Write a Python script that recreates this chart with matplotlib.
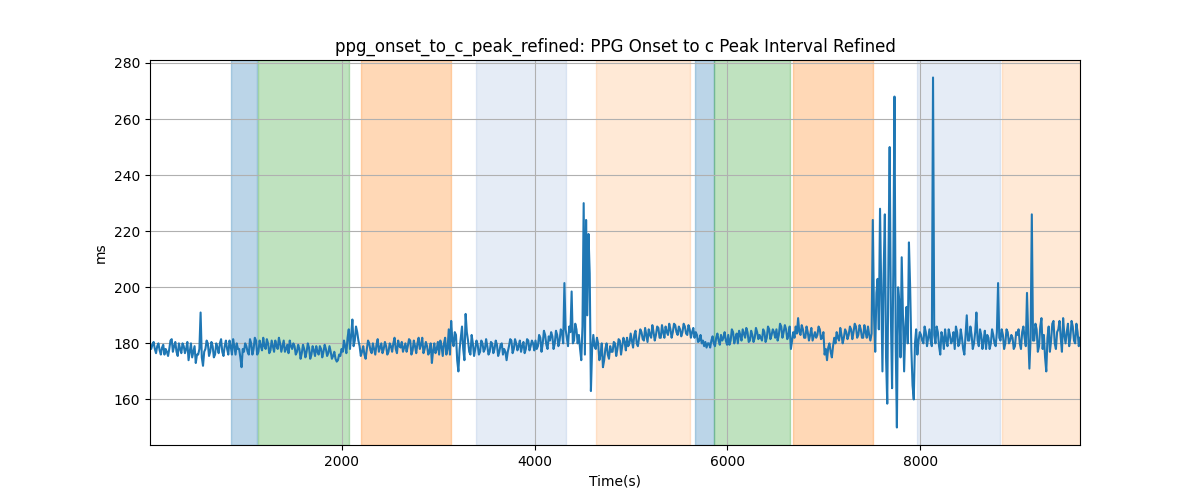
import numpy as np
import matplotlib
matplotlib.use("Agg")
import matplotlib.pyplot as plt

# interval values (ms) at every 25 s
values = [
    180, 179.5, 178, 179, 177.5, 178.5, 176, 177, 178, 181.5, 179, 177, 180, 176.5, 179, 178, 174, 180, 177, 173,
    176, 191, 172, 178, 180, 177, 179, 176, 178.5, 180, 177, 179, 178, 181, 176, 179, 180, 178, 171.5, 177,
    179, 176, 180, 178, 181, 177, 179, 182, 178, 180, 177.5, 179, 181, 178, 180, 179, 177, 179.5, 181, 178,
    179, 177, 178, 176.5, 178, 177, 178.5, 176, 177.5, 179, 176, 178, 177, 178, 176.5, 177, 175.5, 174.5, 174, 175.5,
    177, 179, 182, 178, 188.5, 181, 184, 179, 177, 176, 178, 180, 176.5, 178, 179.5, 177, 180, 178, 179, 177,
    179, 180, 178, 181, 178.5, 177, 180, 179, 181, 177.5, 179, 180, 178, 182, 178, 179, 177, 173, 180, 178,
    176, 179, 180, 176, 185, 188, 179, 183, 170, 182, 178, 190.5, 181, 176, 180, 178, 179.5, 177, 180, 178,
    179, 177, 180, 178, 179.5, 177, 180, 178, 174, 179, 181, 178, 180, 179, 177, 180.5, 178, 181, 179, 180,
    181, 179, 182, 180, 183, 178, 181, 182.5, 180, 183, 181, 184, 201.5, 182, 186, 198.5, 181, 185, 183, 174,
    230, 224, 219, 163, 183, 178, 180, 176, 171.5, 178, 176, 179, 177, 180, 178, 181, 179, 180.5, 182, 180,
    181, 183, 180, 182, 184, 181, 183, 185, 182, 184, 183, 185.5, 182, 184, 186, 183, 185, 184, 186.5, 183,
    185, 184, 186, 183, 185, 184, 182, 183, 181, 180, 179, 178.5, 180, 181, 180, 182, 181, 183, 182, 181,
    183, 181, 184, 182, 180, 183, 185, 182, 184, 181, 183, 182, 184, 183, 181, 184, 182, 185, 183, 184,
    185, 183, 186, 184, 185, 183, 178, 184, 186, 189, 183, 185, 182, 184, 183, 181, 184, 183, 185, 182,
    176, 174, 180, 175, 182, 184, 181, 183, 182, 184, 183, 185, 184, 186, 183, 185, 182, 184, 186, 181,
    224, 177, 203, 228, 170, 226, 158.5, 250, 164, 268, 150, 195, 210.7, 170, 193, 216, 178, 160, 185, 181,
    183, 180, 184, 182, 181, 274.8, 180, 184, 176, 182, 185, 179, 183, 181, 178, 184, 180, 182, 176, 190,
    181, 183, 180, 191, 179, 183, 181, 178, 182, 180, 183, 179, 201.5, 181, 183, 180, 184, 181, 182, 179,
    183, 180, 184, 182, 198, 171, 226, 181, 185, 179, 189, 183, 170, 186, 181, 188, 178, 185, 182, 189,
    180, 187, 182, 186, 180, 184, 182,
]
# readings half way between the ones above
values_mid = [
    178, 180.5, 176.5, 180, 176, 179.5, 178, 175.5, 181, 177, 180.5, 175.5, 178, 180, 176.5, 180.5, 177, 175, 179, 176,
    178, 175, 177, 181, 175.5, 180.5, 175, 180, 176.5, 181.5, 175.5, 181, 176, 179, 181.5, 176, 178, 175, 178, 180,
    177, 181.5, 176, 182, 176, 181, 177.5, 179, 181.5, 176.5, 181, 177, 179, 182, 177, 181, 178, 176.5, 179, 180,
    176, 179.5, 174.5, 179.5, 175, 180, 174.5, 179, 175.5, 177, 179, 175, 179.5, 175.5, 179, 174.5, 177, 173.5, 176, 178,
    181, 176.5, 185, 183, 179, 186, 181, 175.5, 179, 174.5, 181, 177.5, 180, 176, 181.5, 178.5, 176.5, 180.5, 176, 180,
    177, 182, 176.5, 179, 180.5, 178.5, 177, 181.5, 176, 181, 176.5, 182, 179.5, 176.5, 180.5, 176, 180, 177.5, 176.5, 180.5,
    181, 175.5, 182, 178, 176, 181, 184, 174, 178, 186, 174, 184, 177, 183, 175.5, 181, 176, 181, 177, 181.5,
    176, 180.5, 176.5, 181, 175.5, 179.5, 176, 177, 177, 181.5, 176.5, 181.5, 177.5, 181, 179, 176.5, 181.5, 177.5, 181, 177.5,
    178, 183, 177, 184.5, 179.5, 182.5, 184, 178, 184.5, 179, 185, 180, 185, 179, 184, 180, 187, 180, 178, 186,
    176, 190, 205, 178, 179, 182, 174, 180, 174, 180, 174.5, 177, 180.5, 175.5, 181.5, 176, 182, 177.5, 179, 183.5,
    178.5, 184.5, 179, 185, 181.5, 185.5, 180.5, 183, 186.5, 181, 186, 182, 186.5, 182, 184, 187, 182, 187, 184, 186,
    182.5, 187, 183.5, 186.5, 182, 185.5, 184, 180.5, 183, 181, 180.5, 180, 178.5, 182.5, 179, 183.5, 179.5, 181, 184, 179.5,
    179.5, 185, 180, 183.5, 184.5, 181, 183.5, 185.5, 180.5, 184.5, 180.5, 185.5, 181.5, 182, 185, 180.5, 186, 181.5, 185, 182,
    181, 187, 182, 186.5, 181.5, 186, 181, 182, 183.5, 184, 186.5, 182, 186, 181, 185.5, 182.5, 182, 186, 181.5, 184,
    178, 178.5, 177, 179, 180, 182, 185.5, 180, 185, 181.5, 186, 181.5, 187, 182, 186.5, 182, 186.5, 182, 183, 183.5,
    190, 198, 185, 200, 205, 175, 210, 190, 205, 180, 200, 175, 190, 186, 180, 200, 165, 180, 176, 184,
    181, 186, 179, 185, 179, 183, 186, 179, 184, 178, 181, 185, 180, 184, 186, 179, 185, 178, 183, 181,
    186, 178, 184, 181, 185, 178, 184.5, 183, 178, 185, 180, 184, 182, 185, 178, 185, 180, 183, 178, 184,
    185, 178, 186, 179, 183, 182, 181, 187, 177, 186, 178, 175, 182, 177, 187, 180, 184, 188, 177, 183,
    184, 179, 188, 181, 187, 179,
]
t_start = 8
t_step = 25

# shaded segments
span_start = [846, 1128, 2195, 3389, 4635, 5663, 5860, 6680, 7967, 8849]
span_end = [1123, 2068, 3128, 4320, 5611, 5860, 6649, 7510, 8828, 9658]
span_color = ['tab:blue', 'tab:green', 'tab:orange', '#3a6fc0', 'tab:orange',
              'tab:blue', 'tab:green', 'tab:orange', '#3a6fc0', 'tab:orange']
span_alpha = [0.3, 0.3, 0.3, 0.13, 0.17, 0.3, 0.3, 0.3, 0.13, 0.17]

y = np.empty(len(values) + len(values_mid))
y[0::2] = values
y[1::2] = values_mid
t = t_start + t_step / 2 * np.arange(len(y))

plt.figure(figsize=(12, 5))
for s, e, c, a in zip(span_start, span_end, span_color, span_alpha):
    plt.axvspan(s, e, color=c, alpha=a)
plt.plot(t, y, color='tab:blue')
plt.xlim(t[0], t[-1])
plt.grid(True)
plt.xlabel('Time(s)')
plt.ylabel('ms')
plt.title('ppg_onset_to_c_peak_refined: PPG Onset to c Peak Interval Refined')
plt.savefig('out.png')
